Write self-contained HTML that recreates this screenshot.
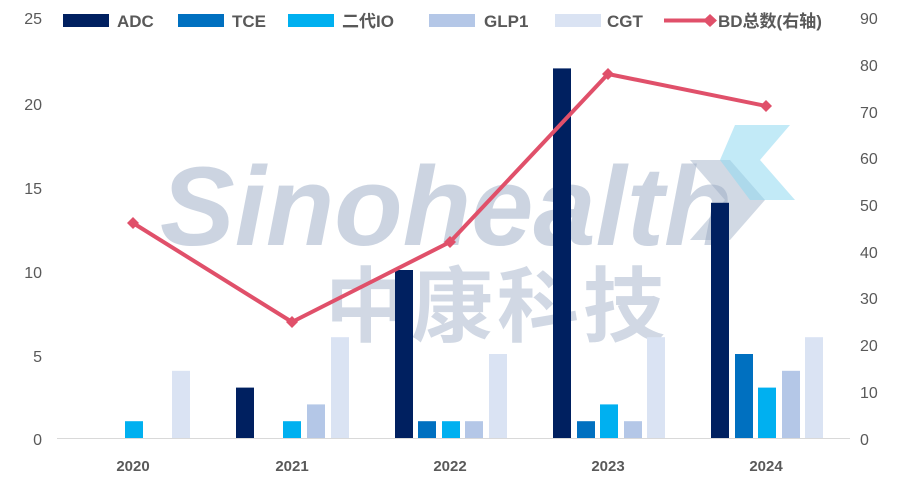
<!DOCTYPE html>
<html><head><meta charset="utf-8"><style>body{margin:0;background:#fff}svg{display:block}</style></head><body>
<svg width="899" height="489" xmlns="http://www.w3.org/2000/svg" font-family="Liberation Sans, Noto Sans CJK SC, sans-serif">
<rect width="899" height="489" fill="#fff"/>
<text x="160" y="245" font-size="112" font-style="italic" font-weight="bold" fill="#9aabc4" opacity="0.5">Sinohealth</text>
<text x="325" y="335" font-size="82" font-weight="bold" fill="#9aabc4" opacity="0.45" letter-spacing="4" font-family="Noto Sans CJK SC, sans-serif">中康科技</text>
<polygon points="690,160 730,160 765,200 730,240 690,240 725,200" fill="#9aabc4" opacity="0.45"/>
<polygon points="735,125 790,125 760,160 795,200 750,200 720,160" fill="#8fd8f0" opacity="0.55"/>
<line x1="57" y1="438.5" x2="850" y2="438.5" stroke="#d9d9d9"/>
<g font-size="16" fill="#595959" text-anchor="end">
<text x="42" y="24">25</text><text x="42" y="110">20</text><text x="42" y="194">15</text><text x="42" y="278">10</text><text x="42" y="362">5</text><text x="42" y="445">0</text>
</g>
<g font-size="16" fill="#595959" text-anchor="start">
<text x="860" y="24">90</text><text x="860" y="71">80</text><text x="860" y="118">70</text><text x="860" y="164">60</text><text x="860" y="211">50</text><text x="860" y="258">40</text><text x="860" y="304">30</text><text x="860" y="351">20</text><text x="860" y="398">10</text><text x="860" y="445">0</text>
</g>
<g font-size="15" font-weight="bold" fill="#595959" text-anchor="middle">
<text x="133" y="471">2020</text><text x="292" y="471">2021</text><text x="450" y="471">2022</text><text x="608" y="471">2023</text><text x="766" y="471">2024</text>
</g>
<g>
<rect x="125" y="421.2" width="18" height="16.8" fill="#00b0f0"/>
<rect x="172" y="370.8" width="18" height="67.2" fill="#dae3f3"/>
<rect x="236" y="387.6" width="18" height="50.4" fill="#002060"/>
<rect x="283" y="421.2" width="18" height="16.8" fill="#00b0f0"/>
<rect x="307" y="404.4" width="18" height="33.6" fill="#b4c7e7"/>
<rect x="331" y="337.2" width="18" height="100.8" fill="#dae3f3"/>
<rect x="395" y="270" width="18" height="168" fill="#002060"/>
<rect x="418" y="421.2" width="18" height="16.8" fill="#0070c0"/>
<rect x="442" y="421.2" width="18" height="16.8" fill="#00b0f0"/>
<rect x="465" y="421.2" width="18" height="16.8" fill="#b4c7e7"/>
<rect x="489" y="354" width="18" height="84" fill="#dae3f3"/>
<rect x="553" y="68.4" width="18" height="369.6" fill="#002060"/>
<rect x="577" y="421.2" width="18" height="16.8" fill="#0070c0"/>
<rect x="600" y="404.4" width="18" height="33.6" fill="#00b0f0"/>
<rect x="624" y="421.2" width="18" height="16.8" fill="#b4c7e7"/>
<rect x="647" y="337.2" width="18" height="100.8" fill="#dae3f3"/>
<rect x="711" y="202.8" width="18" height="235.2" fill="#002060"/>
<rect x="735" y="354" width="18" height="84" fill="#0070c0"/>
<rect x="758" y="387.6" width="18" height="50.4" fill="#00b0f0"/>
<rect x="782" y="370.8" width="18" height="67.2" fill="#b4c7e7"/>
<rect x="805" y="337.2" width="18" height="100.8" fill="#dae3f3"/>
</g>
<polyline points="133,223 292,322 450,242 608,74 766,106" fill="none" stroke="#e0506a" stroke-width="4" stroke-linejoin="round"/>
<g fill="#e0506a">
<polygon points="133,217 139,223 133,229 127,223"/>
<polygon points="292,316 298,322 292,328 286,322"/>
<polygon points="450,236 456,242 450,248 444,242"/>
<polygon points="608,68 614,74 608,80 602,74"/>
<polygon points="766,100 772,106 766,112 760,106"/>
</g>
<g font-size="17" font-weight="bold" fill="#595959">
<rect x="63" y="14" width="46" height="13" fill="#002060"/><text x="117" y="27">ADC</text>
<rect x="178" y="14" width="46" height="13" fill="#0070c0"/><text x="232" y="27">TCE</text>
<rect x="288" y="14" width="46" height="13" fill="#00b0f0"/><text x="342" y="27">二代IO</text>
<rect x="429" y="14" width="46" height="13" fill="#b4c7e7"/><text x="484" y="27">GLP1</text>
<rect x="555" y="14" width="46" height="13" fill="#dae3f3"/><text x="607" y="27">CGT</text>
<line x1="664" y1="20.5" x2="710" y2="20.5" stroke="#e0506a" stroke-width="4"/>
<polygon points="710,14 717,20.5 710,27 703,20.5" fill="#e0506a"/>
<text x="718" y="27">BD总数(右轴)</text>
</g>
</svg>
</body></html>
